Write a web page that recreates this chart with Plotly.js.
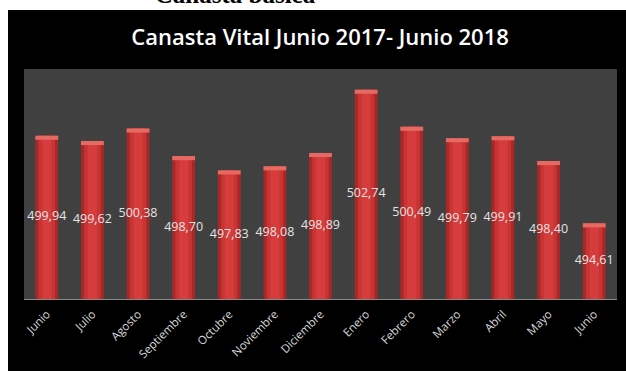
<!DOCTYPE html>
<html><head><meta charset="utf-8">
<script src="https://cdn.plot.ly/plotly-3.0.1.min.js"></script>
<style>
html,body{margin:0;padding:0;background:#fff;width:626px;height:371px;overflow:hidden;position:relative;}
#top{position:absolute;left:0;width:470px;top:-19px;text-align:center;font-family:"Liberation Serif","Times New Roman",serif;font-weight:bold;font-size:25px;color:#000;line-height:27px;}
#chart{position:absolute;left:8px;top:10px;width:618px;height:361px;}
</style></head>
<body>
<div id="top">Canasta básica</div>
<div id="chart"></div>
<script>
const months = ["Junio","Julio","Agosto","Septiembre","Octubre","Noviembre","Diciembre","Enero","Febrero","Marzo","Abril","Mayo","Junio"];
const values = [499.94,499.62,500.38,498.70,497.83,498.08,498.89,502.74,500.49,499.79,499.91,498.40,494.61];
const labels = ["499,94","499,62","500,38","498,70","497,83","498,08","498,89","502,74","500,49","499,79","499,91","498,40","494,61"];
const yMin = 490, yMax = 504;

const xs = months.map((m,i)=>i);
const capH = 0.25;
const traces = [
  {type:'bar', x:xs, y:values.map(v=>v-yMin), base:yMin, width:0.5,
   marker:{color:'#a82828', line:{width:0}}, hoverinfo:'skip'},
  {type:'bar', x:xs, y:values.map(v=>v-yMin), base:yMin, width:0.36,
   marker:{color:'#c73434', line:{width:0}}, hoverinfo:'skip'},
  {type:'bar', x:xs, y:values.map(v=>v-yMin), base:yMin, width:0.2,
   marker:{color:'#d63c3c', line:{width:0}}, hoverinfo:'skip'},
  {type:'bar', x:xs, y:values.map(()=>capH), base:values.map(v=>v-capH), width:0.5,
   marker:{color:'#e56a63', line:{width:0}}, hoverinfo:'skip'},
  {type:'scatter', mode:'text', x:xs, y:values.map(v=>(yMin+v)/2), text:labels,
   textposition:'middle center', textfont:{family:'Open Sans', size:12.5, color:'#e4e4e4'},
   hoverinfo:'skip'}
];
const layout = {
  width:618, height:361,
  paper_bgcolor:'#000', plot_bgcolor:'#404040',
  margin:{l:16, r:9, t:59, b:72},
  showlegend:false, barmode:'overlay',
  title:{text:'Canasta Vital Junio 2017- Junio 2018', font:{family:'Open Sans', size:22, color:'#fff', weight:600}, x:0.505, xanchor:'center', y:0.925, yanchor:'middle'},
  xaxis:{type:'linear', range:[-0.5,12.5], tickvals:xs, ticktext:months, tickangle:-45,
    tickfont:{family:'Open Sans', size:11.5, color:'#d9d9d9'}, showgrid:false, zeroline:false,
    showline:true, linecolor:'#8a8a8a', linewidth:1, ticks:'', ticklabelstandoff:3, fixedrange:true},
  yaxis:{range:[yMin,yMax], visible:false, showgrid:false, zeroline:false, fixedrange:true}
};
Plotly.newPlot('chart', traces, layout, {staticPlot:true, displayModeBar:false});
</script>
</body></html>
